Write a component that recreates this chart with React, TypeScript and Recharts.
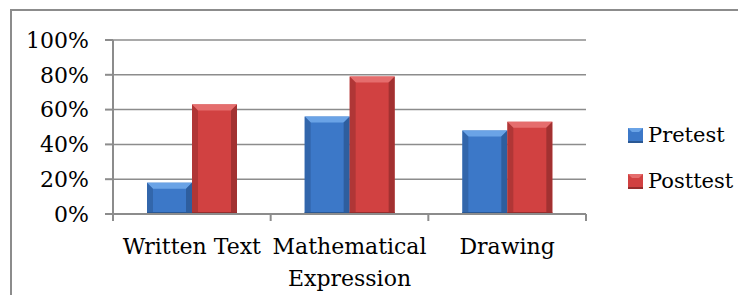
import React from 'react';
import { BarChart, Bar, XAxis, YAxis, CartesianGrid, Text } from 'recharts';

const categories = ['Written Text', 'Mathematical Expression', 'Drawing'];
const pretest = [18, 56, 48];
const posttest = [63, 79, 53];
const yTicks = [0, 20, 40, 60, 80, 100];

const series = [
  { key: 'pretest', name: 'Pretest', main: '#3c78c8', light: '#6aa3e6', dark: '#2a5894' },
  { key: 'posttest', name: 'Posttest', main: '#d14141', light: '#e56d6d', dark: '#962d2d' },
];

const data = categories.map((name, i) => ({ name, pretest: pretest[i], posttest: posttest[i] }));

const FONT = '"DejaVu Serif", "Liberation Serif", serif';
const GRAY = '#8c8c8c';

// beveled bar like the office 3D style
const bevelShape = (s: typeof series[number]) => (props: any) => {
  const { x, y, width, height } = props;
  if (!height || height <= 0) return null;
  const b = Math.min(6, width / 4, height / 2);
  return (
    <g>
      <rect x={x} y={y} width={width} height={height} fill={s.main} />
      <polygon points={`${x},${y} ${x + width},${y} ${x + width - b},${y + b} ${x + b},${y + b}`} fill={s.light} />
      <polygon points={`${x},${y} ${x + b},${y + b} ${x + b},${y + height} ${x},${y + height}`} fill={s.dark} opacity={0.55} />
      <polygon points={`${x + width},${y} ${x + width - b},${y + b} ${x + width - b},${y + height} ${x + width},${y + height}`} fill={s.dark} opacity={0.8} />
      <rect x={x} y={y + height - 2} width={width} height={2} fill={s.dark} />
    </g>
  );
};

const CategoryTick = (props: any) => {
  const { x, y, payload, index, visibleTicksCount } = props;
  const half = payload.offset ?? 78.8;
  const last = index === visibleTicksCount - 1;
  return (
    <g>
      <line x1={x - half} x2={x - half} y1={y} y2={y + 7} stroke={GRAY} strokeWidth={2} />
      {last && <line x1={x + half} x2={x + half} y1={y} y2={y + 7} stroke={GRAY} strokeWidth={2} />}
      <Text
        x={x}
        y={y + 24}
        width={half * 2}
        textAnchor="middle"
        verticalAnchor="start"
        lineHeight={32}
        fontSize={22}
        fontFamily={FONT}
        style={{ fontFamily: FONT }}
        fill="#000"
      >
        {payload.value}
      </Text>
    </g>
  );
};

const LegendBox = ({ s }: { s: typeof series[number] }) => (
  <svg width={15} height={15} style={{ display: 'block' }}>
    <rect x={0} y={0} width={15} height={15} fill={s.main} />
    <polygon points="0,0 15,0 11,4 4,4" fill={s.light} />
    <rect x={0} y={13} width={15} height={2} fill={s.dark} />
  </svg>
);

export default function App() {
  return (
    <div style={{ margin: -8, width: 746, height: 303, position: 'relative', overflow: 'hidden', background: '#fff', fontFamily: FONT }}>
      <div
        style={{
          position: 'absolute',
          left: 10,
          top: 9,
          width: 800,
          height: 400,
          border: `2px solid ${GRAY}`,
        }}
      />
      <div style={{ position: 'absolute', left: 0, top: 0 }}>
        <BarChart
          width={746}
          height={303}
          data={data}
          margin={{ top: 40, right: 160, left: 0, bottom: 9 }}
          barGap={0}
          style={{ fontFamily: FONT }}
        >
          <CartesianGrid vertical={false} stroke={GRAY} strokeWidth={1.5} />
          <YAxis
            width={113}
            domain={[0, 100]}
            ticks={yTicks}
            interval={0}
            tickFormatter={(v: number) => `${v}%`}
            tick={{ fontSize: 22, fontFamily: FONT, fill: '#000' }}
            tickSize={8}
            tickMargin={16}
            axisLine={{ stroke: GRAY, strokeWidth: 2 }}
            tickLine={{ stroke: GRAY, strokeWidth: 2 }}
          />
          <XAxis
            dataKey="name"
            height={80}
            interval={0}
            tickSize={0}
            tickMargin={0}
            tickLine={false}
            axisLine={{ stroke: GRAY, strokeWidth: 2 }}
            tick={<CategoryTick />}
          />
          {series.map((s) => (
            <Bar
              key={s.key}
              dataKey={s.key}
              name={s.name}
              barSize={45}
              fill={s.main}
              shape={bevelShape(s)}
              isAnimationActive={false}
            />
          ))}
        </BarChart>
      </div>
      <div style={{ position: 'absolute', left: 628, top: 113, fontSize: 21, color: '#000' }}>
        {series.map((s) => (
          <div key={s.key} style={{ display: 'flex', alignItems: 'center', height: 45.5 }}>
            <LegendBox s={s} />
            <span style={{ marginLeft: 5, lineHeight: 1 }}>{s.name}</span>
          </div>
        ))}
      </div>
    </div>
  );
}
